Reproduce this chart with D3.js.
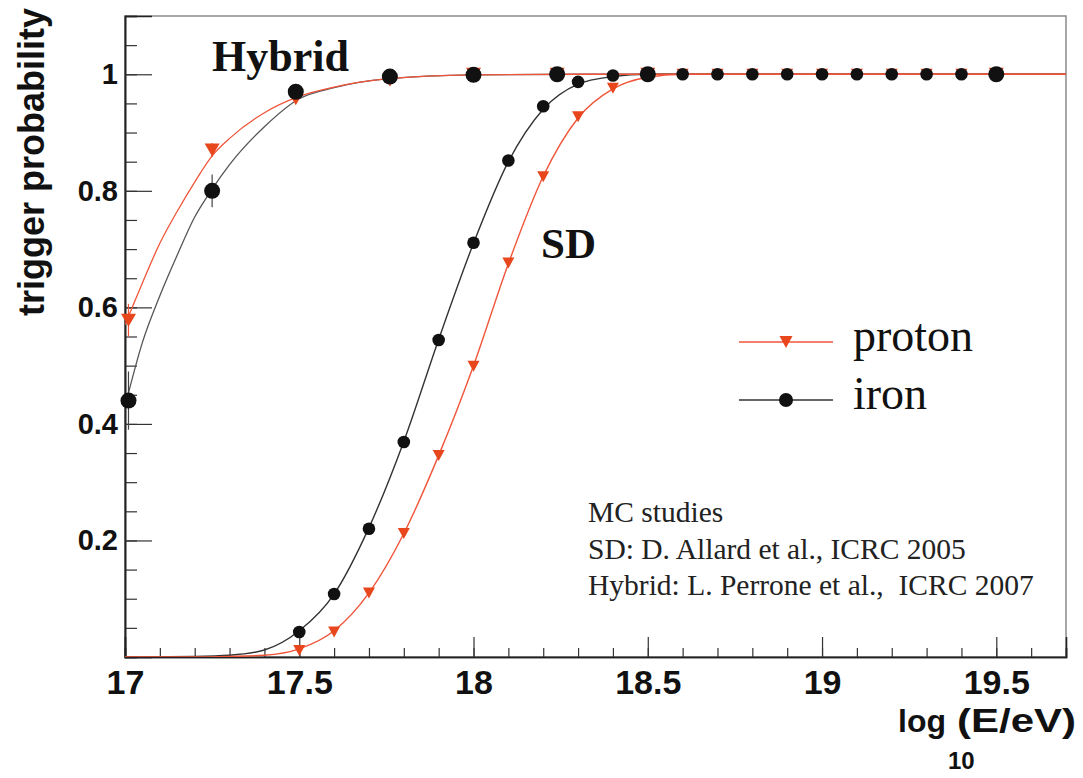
<!DOCTYPE html>
<html><head><meta charset="utf-8">
<script src="https://cdn.jsdelivr.net/npm/d3@7"></script>
<style>body{margin:0;background:#fff}svg{display:block}</style>
</head><body><svg id="c" width="1083" height="778"></svg>
<script>
// ---- data ----
const sdEnergy = [17.5,17.6,17.7,17.8,17.9,18.0,18.1,18.2,18.3,18.4,18.5,18.6,18.7,18.8,18.9,19.0,19.1,19.2,19.3,19.4,19.5];
const sdIron   = [0.043,0.108,0.220,0.369,0.544,0.711,0.852,0.945,0.987,0.998,1.0,1.0,1.0,1.0,1.0,1.0,1.0,1.0,1.0,1.0,1.0];
const sdProton = [0.011,0.043,0.110,0.212,0.346,0.499,0.676,0.824,0.927,0.976,0.997,1.0,1.0,1.0,1.0,1.0,1.0,1.0,1.0,1.0,1.0];

const hybridEnergy = [17.01,17.25,17.49,17.76,18.0,18.24,18.5,19.5];
const hybridIron   = [0.44,0.80,0.97,0.996,0.999,1.0,1.0,1.0];
const hybridProton = [0.578,0.87,0.958,0.99,1.0,1.0,1.0,1.0];
const hybridIronErr   = [0.05,0.028,0.008,0,0,0,0,0];
const hybridProtonErr = [0.028,0.012,0.006,0,0,0,0,0];

// fitted curves
const fitHybridX      = [17.0,17.05,17.1,17.15,17.2,17.25,17.3,17.4,17.5,17.6,17.75,18.0,18.3,19.7];
const fitHybridProton = [0.57,0.642,0.71,0.765,0.815,0.86,0.89,0.934,0.962,0.978,0.992,0.999,1.0,1.0];
const fitHybridIron   = [0.43,0.54,0.62,0.69,0.755,0.803,0.845,0.91,0.958,0.977,0.992,0.999,1.0,1.0];
const fitSdX      = [17.0,17.2,17.3,17.4,17.5,17.6,17.7,17.8,17.9,18.0,18.1,18.2,18.3,18.4,18.5,18.6,19.7];
const fitSdIron   = [0,0.001,0.003,0.012,0.045,0.108,0.222,0.37,0.545,0.71,0.85,0.94,0.983,0.996,1.0,1.0,1.0];
const fitSdProton = [0,0,0.001,0.003,0.014,0.045,0.11,0.212,0.346,0.5,0.675,0.825,0.925,0.975,0.995,1.0,1.0];

const xMajorTicks = [17,17.5,18,18.5,19,19.5];
const xTickLabels = ["17","17.5","18","18.5","19","19.5"];
const yMajorTicks = [0.2,0.4,0.6,0.8,1.0];
const yTickLabels = ["0.2","0.4","0.6","0.8","1"];
const seriesNames = ["proton","iron"];
const noteLines = ["MC studies","SD: D. Allard et al., ICRC 2005","Hybrid: L. Perrone et al.,  ICRC 2007"];

// ---- layout ----
const W = 1083, H = 778;
const m = {left:125, top:16, right:17, bottom:121};
const svg = d3.select("#c");
const x = d3.scaleLinear().domain([17,19.7]).range([m.left, W-m.right]);
const y = d3.scaleLinear().domain([0,1.1]).range([H-m.bottom, m.top]);
const RED = "#e8461c", REDLINE = "#f0553a", BLK = "#111";
const SANS = "Liberation Sans, Arial, sans-serif", SERIF = "Liberation Serif, Times New Roman, serif";

svg.append("defs").append("clipPath").attr("id","pc")
  .append("rect").attr("x",m.left).attr("y",m.top)
  .attr("width",W-m.left-m.right).attr("height",H-m.top-m.bottom);

// frame
svg.append("rect").attr("x",m.left).attr("y",m.top)
  .attr("width",W-m.left-m.right).attr("height",H-m.top-m.bottom)
  .attr("fill","none").attr("stroke","#8a8a8a").attr("stroke-width",1.5);

// axes
const xMinor = d3.range(17,19.71,0.1).map(v=>+v.toFixed(2));
const yMinor = d3.range(0,1.101,0.05).map(v=>+v.toFixed(2));
const gx = svg.append("g").attr("transform",`translate(0,${H-m.bottom})`);
gx.call(d3.axisBottom(x).tickValues(xMinor).tickSize(-9).tickFormat(""));
gx.append("g").call(d3.axisBottom(x).tickValues(xMajorTicks).tickSize(-20).tickPadding(13)
   .tickFormat((d,i)=>xTickLabels[i]));
gx.selectAll("path.domain").attr("stroke","#222").attr("stroke-width",1.6);
gx.selectAll("line").attr("stroke","#333").attr("stroke-width",1.2);
gx.selectAll("text").attr("font-family",SANS)
  .attr("font-weight","bold").attr("font-size",34).attr("fill","#111");

const gy = svg.append("g").attr("transform",`translate(${m.left},0)`);
gy.call(d3.axisLeft(y).tickValues(yMinor).tickSize(-12).tickFormat(""));
gy.append("g").call(d3.axisLeft(y).tickValues(yMajorTicks).tickSize(-27).tickPadding(7)
   .tickFormat((d,i)=>yTickLabels[i]));
gy.selectAll("path.domain").attr("stroke","#222").attr("stroke-width",1.6);
gy.selectAll("line").attr("stroke","#333").attr("stroke-width",1.2);
gy.selectAll("text").attr("font-family",SANS)
  .attr("font-weight","bold").attr("font-size",29).attr("fill","#111");

// axis titles
svg.append("text").attr("transform",`translate(44,8) rotate(-90)`)
  .attr("text-anchor","end").attr("font-family",SANS)
  .attr("font-weight","bold").attr("font-size",36).attr("fill","#111")
  .text("trigger probability");
const xtg = svg.append("g").attr("font-family",SANS).attr("font-weight","bold").attr("fill","#111");
xtg.append("text").attr("x",898).attr("y",732).attr("font-size",32).text("log");
xtg.append("text").attr("x",948).attr("y",769).attr("font-size",24).text("10");
xtg.append("text").attr("x",957).attr("y",732).attr("font-size",33)
  .attr("textLength",119).attr("lengthAdjust","spacingAndGlyphs").text("(E/eV)");

// fit curves
const plot = svg.append("g").attr("clip-path","url(#pc)");
const line = (xs,ys)=> d3.line().x(i=>x(xs[i])).y(i=>y(ys[i])).curve(d3.curveMonotoneX)(d3.range(xs.length));
plot.append("path").attr("d",line(fitHybridX,fitHybridIron)).attr("fill","none").attr("stroke","#555").attr("stroke-width",1.3);
plot.append("path").attr("d",line(fitSdX,fitSdIron)).attr("fill","none").attr("stroke","#333").attr("stroke-width",1.4);
plot.append("path").attr("d",line(fitHybridX,fitHybridProton)).attr("fill","none").attr("stroke",REDLINE).attr("stroke-width",1.3);
plot.append("path").attr("d",line(fitSdX,fitSdProton)).attr("fill","none").attr("stroke",REDLINE).attr("stroke-width",1.4);

// error bars
hybridEnergy.forEach((e,i)=>{
  if(hybridIronErr[i]>0) plot.append("line").attr("x1",x(e)).attr("x2",x(e))
     .attr("y1",y(hybridIron[i]-hybridIronErr[i])).attr("y2",y(hybridIron[i]+hybridIronErr[i]))
     .attr("stroke","#444").attr("stroke-width",1.2);
  if(hybridProtonErr[i]>0) plot.append("line").attr("x1",x(e)).attr("x2",x(e))
     .attr("y1",y(hybridProton[i]-hybridProtonErr[i])).attr("y2",y(hybridProton[i]+hybridProtonErr[i]))
     .attr("stroke",REDLINE).attr("stroke-width",1.2);
});

// markers
const tri = (w,h)=>`M${-w/2},${-h/2}L${w/2},${-h/2}L0,${h/2}Z`;
const mk = svg.append("g");
mk.selectAll(".tp").data(d3.range(sdEnergy.length)).join("path")
  .attr("transform",i=>`translate(${x(sdEnergy[i])},${y(sdProton[i])})`)
  .attr("d",tri(12,11)).attr("fill",RED);
mk.selectAll(".th").data(d3.range(hybridEnergy.length)).join("path")
  .attr("transform",i=>`translate(${x(hybridEnergy[i])},${y(hybridProton[i])})`)
  .attr("d",tri(15,13)).attr("fill",RED);
mk.selectAll(".ci").data(d3.range(sdEnergy.length)).join("circle")
  .attr("cx",i=>x(sdEnergy[i])).attr("cy",i=>y(sdIron[i])).attr("r",6.3).attr("fill",BLK);
mk.selectAll(".ch").data(d3.range(hybridEnergy.length)).join("circle")
  .attr("cx",i=>x(hybridEnergy[i])).attr("cy",i=>y(hybridIron[i])).attr("r",8).attr("fill",BLK);

// labels
svg.append("text").attr("x",212).attr("y",71).attr("font-family",SERIF)
  .attr("font-weight","bold").attr("font-size",44).attr("fill","#111").text("Hybrid");
svg.append("text").attr("x",541).attr("y",258).attr("font-family",SERIF)
  .attr("font-weight","bold").attr("font-size",43).attr("fill","#111").text("SD");

// legend
const lg = svg.append("g");
const legY = [342,400];
lg.append("line").attr("x1",739).attr("x2",833).attr("y1",legY[0]).attr("y2",legY[0]).attr("stroke",REDLINE).attr("stroke-width",1.3);
lg.append("path").attr("transform",`translate(786,${legY[0]})`).attr("d",tri(13,12)).attr("fill",RED);
lg.append("line").attr("x1",739).attr("x2",833).attr("y1",legY[1]).attr("y2",legY[1]).attr("stroke","#333").attr("stroke-width",1.3);
lg.append("circle").attr("cx",786).attr("cy",legY[1]).attr("r",7).attr("fill",BLK);
seriesNames.forEach((s,i)=>lg.append("text").attr("x",853).attr("y",legY[i]+9)
  .attr("font-family",SERIF).attr("font-size",46).attr("fill","#111").text(s));

// note
noteLines.forEach((t,i)=>svg.append("text").attr("x",588).attr("y",522+i*36.5)
  .attr("font-family",SERIF).attr("font-size",29.5)
  .attr("fill","#222").style("white-space","pre").text(t));
</script></body></html>
